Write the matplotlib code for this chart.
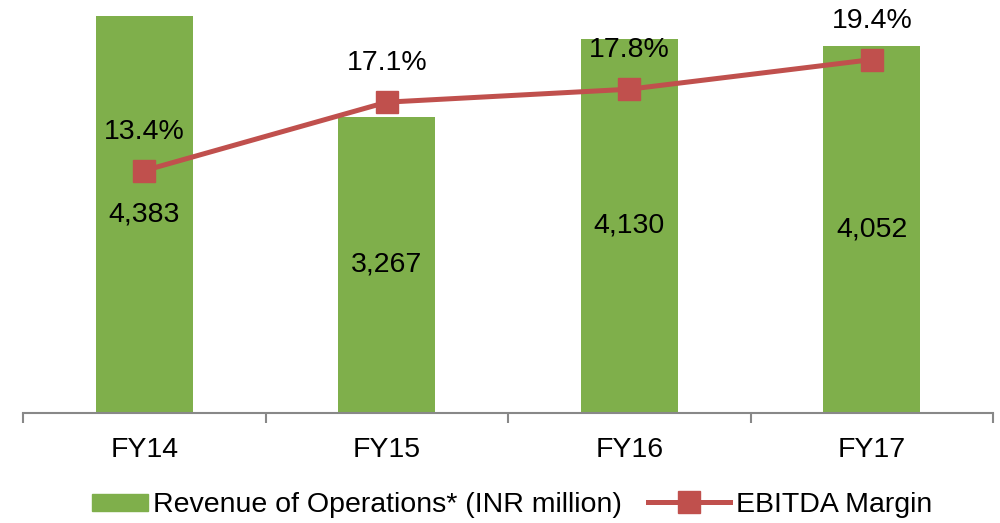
import matplotlib
matplotlib.use("Agg")
import matplotlib.pyplot as plt
from matplotlib.patches import Patch
from matplotlib.lines import Line2D
import numpy as np

plt.rcParams["font.family"] = ["Liberation Sans", "DejaVu Sans"]

years = ["FY14", "FY15", "FY16", "FY17"]
revenue = [4383, 3267, 4130, 4052]
ebitda_margin = [13.4, 17.1, 17.8, 19.4]

green = "#7FAF4B"
red = "#C0504D"
fs = 20.5

fig = plt.figure(figsize=(10, 5.23), dpi=100)
ax = fig.add_axes([0.023, 0.2103, 0.970, 0.7801])
x = np.arange(len(years))

ax.bar(x, revenue, width=0.4, color=green, zorder=2)
ax.set_xlim(-0.5, len(years) - 0.5)
ax.set_ylim(0, 4500)
for xi, v in zip(x, revenue):
    ax.text(xi, v / 2, f"{v:,}", ha="center", va="center", fontsize=fs)

# axis styling
for s in ["top", "right", "left"]:
    ax.spines[s].set_visible(False)
ax.spines["bottom"].set_color("#888888")
ax.spines["bottom"].set_linewidth(1.5)
ax.set_yticks([])
ax.set_xticks(np.arange(-0.5, len(years)), minor=False)
ax.set_xticklabels([])
ax.tick_params(axis="x", which="major", length=7, width=1.5, color="#888888")
ax.set_xticks(x, minor=True)
ax.set_xticklabels(years, minor=True)
ax.tick_params(axis="x", which="minor", length=0, pad=17, labelsize=fs)

ax2 = ax.twinx()
ax2.set_ylim(0.3, 22.35)
ax2.plot(x, ebitda_margin, color=red, lw=3.6, marker="s", markersize=15.5, zorder=3)
for xi, v in zip(x, ebitda_margin):
    ax2.annotate(f"{v}%", (xi, v), xytext=(0, 28), textcoords="offset points",
                 ha="center", va="center", fontsize=fs)
ax2.set_axis_off()

leg1 = fig.legend(handles=[Patch(color=green, label="Revenue of Operations* (INR million)")],
                  loc="center left", bbox_to_anchor=(0.066, 0.034), frameon=False,
                  fontsize=fs, handlelength=1.97, handleheight=0.53, handletextpad=0.2)
leg2 = fig.legend(handles=[Line2D([], [], color=red, lw=3.6, marker="s", markersize=15.5,
                                  label="EBITDA Margin")],
                  loc="center left", bbox_to_anchor=(0.622, 0.034), frameon=False,
                  fontsize=fs, handlelength=2.9, handletextpad=0.2)

fig.savefig("out.png", dpi=100)
